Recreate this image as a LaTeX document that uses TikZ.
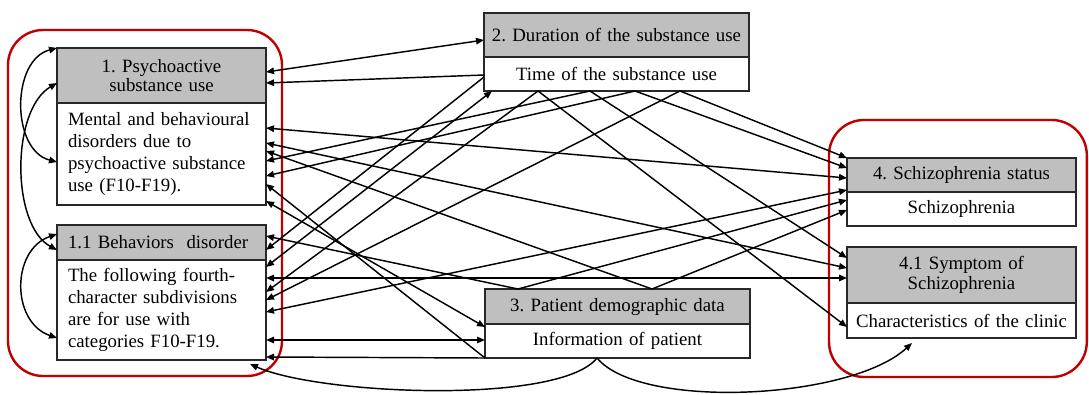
\documentclass[tikz,border=0pt]{standalone}
\usepackage{fontspec}
\setmainfont{Liberation Serif}
\usetikzlibrary{arrows.meta}
\definecolor{hdrgray}{RGB}{191,191,191}
\definecolor{boxred}{RGB}{192,0,0}
\definecolor{edgegray}{RGB}{40,40,40}
\frenchspacing
\begin{document}
\begin{tikzpicture}[x=1pt,y=-1pt,
  >={Triangle[length=8pt,width=6.5pt]},
  box/.style={draw=edgegray, line width=1.8pt, inner ysep=0pt, outer sep=0pt, anchor=north west,
    font=\fontsize{18.8}{19.5}\selectfont},
  hdr/.style={box, fill=hdrgray},
  bodybox/.style={box, fill=white},
  cbox/.style={inner xsep=6pt, text width=#1-12pt, align=center},
  lbox/.style={inner xsep=11pt, text width=#1-22pt, align=left},
  redframe/.style={draw=boxred, line width=2.4pt, rounded corners=35pt},
  conn/.style={draw=black, line width=1.45pt}]
\useasboundingbox (0,0) rectangle (1089,394);
% group frames
\draw[redframe] (8,30) rectangle (282,376);
\draw[redframe] (829,120) rectangle (1086.8,377);
% boxes
\node[hdr, cbox=209pt, minimum height=55pt] (b1h) at (57,48) {1. Psychoactive\\substance use};
\node[bodybox, lbox=209pt, minimum height=102pt, font=\fontsize{18.8}{22}\selectfont] (b1b) at (b1h.south west)
  {Mental and behavioural\\disorders due to\\psychoactive substance\\use (F10-F19).};
\node[hdr, lbox=209pt, minimum height=35pt] (b11h) at (57,225) {1.1 Behaviors~ disorder};
\node[bodybox, lbox=209pt, minimum height=100pt, font=\fontsize{18.8}{22}\selectfont] (b11b) at (b11h.south west)
  {The following fourth-\\character subdivisions\\are for use with\\categories F10-F19.};
\node[hdr, cbox=265pt, minimum height=44pt] (b2h) at (484,13) {2. Duration of the substance use};
\node[bodybox, cbox=265pt, minimum height=34pt] (b2b) at (b2h.south west) {Time of the substance use};
\node[hdr, cbox=265pt, minimum height=35pt] (b3h) at (485,289) {3. Patient demographic data};
\node[bodybox, cbox=265pt, minimum height=34pt] (b3b) at (b3h.south west) {Information of patient};
\node[hdr, cbox=229pt, minimum height=34pt] (b4h) at (847,158) {4. Schizophrenia status};
\node[bodybox, cbox=229pt, minimum height=34pt] (b4b) at (b4h.south west) {Schizophrenia};
\node[hdr, cbox=229pt, minimum height=56pt] (b41h) at (847,247) {4.1 Symptom of\\Schizophrenia};
\node[bodybox, cbox=229pt, minimum height=35pt] (b41b) at (b41h.south west) {Characteristics of the clinic};
% free ends of the curved connectors
\coordinate (c1) at (250,364);
\coordinate (c2) at (912,343);
% straight connectors
\draw[conn,<->] (b1h.east |- 0,72) -- (b2h.west |- 0,40);
\draw[conn,->] (b2b.west |- 0,75) -- (b1h.east |- 0,83);
\draw[conn,<->] (b1b.east |- 0,128) -- (b4h.west |- 0,178);
\draw[conn,<->] (b1b.east |- 0,143) -- (b41h.west |- 0,268);
\draw[conn,->] (b3h.north -| 652,0) -- (b1b.east |- 0,151);
\draw[conn,->] (b2b.south -| 590,0) -- (b1b.east |- 0,161);
\draw[conn,->] (b2b.south -| 635,0) -- (b1b.east |- 0,176);
\draw[conn,->] (b3b.south west) -- (b1b.east |- 0,184);
\draw[conn,<->] (b1b.east |- 0,201) -- (b3b.west |- 0,327);
\draw[conn,->] (b3h.north -| 518,0) -- (b11h.east |- 0,236);
\draw[conn,->] (b2b.west |- 0,77) -- (b11h.east |- 0,250);
\draw[conn,<->] (b11b.east |- 0,267) -- (b2b.south -| 492,0);
\draw[conn,<->] (b11b.east |- 0,278) -- (b41h.west |- 0,278);
\draw[conn,->] (b2b.south -| 538,0) -- (b11b.east |- 0,292);
\draw[conn,->] (b2b.south -| 680,0) -- (b11b.east |- 0,300);
\draw[conn,<->] (b11b.east |- 0,312) -- (b4h.west |- 0,190);
\draw[conn,<->] (b11b.east |- 0,340) -- (b3b.west |- 0,340);
\draw[conn,->] (b3b.south west) -- (b11b.east |- 0,357);
\draw[conn,->] (b2b.south -| 680,0) -- (b4h.north west);
\draw[conn,->] (b2b.south -| 635,0) -- (b4h.west |- 0,168);
\draw[conn,->] (b3h.north -| 518,0) -- (b4b.west |- 0,200);
\draw[conn,->] (b3h.north -| 652,0) -- (b4b.west |- 0,210);
\draw[conn,->] (b2b.south -| 590,0) -- (b41h.west |- 0,258);
\draw[conn,->] (b2b.south -| 538,0) -- (b41b.west |- 0,327);
% curved connectors
\draw[conn,<->] (b1h.north west) .. controls (11,60) and (11,150) .. (b1b.west |- 0,162);
\draw[conn,<->] (b1h.west |- 0,83) .. controls (11,110) and (11,225) .. (b11h.west |- 0,250);
\draw[conn,<->] (b11h.west |- 0,234) .. controls (11,250) and (11,322) .. (b11b.west |- 0,338);
\draw[conn,->] (b3b.south -| 597,0) .. controls (560,405) and (320,395) .. (c1);
\draw[conn,->] (b3b.south -| 597,0) .. controls (640,410) and (850,400) .. (c2);
\end{tikzpicture}
\end{document}
